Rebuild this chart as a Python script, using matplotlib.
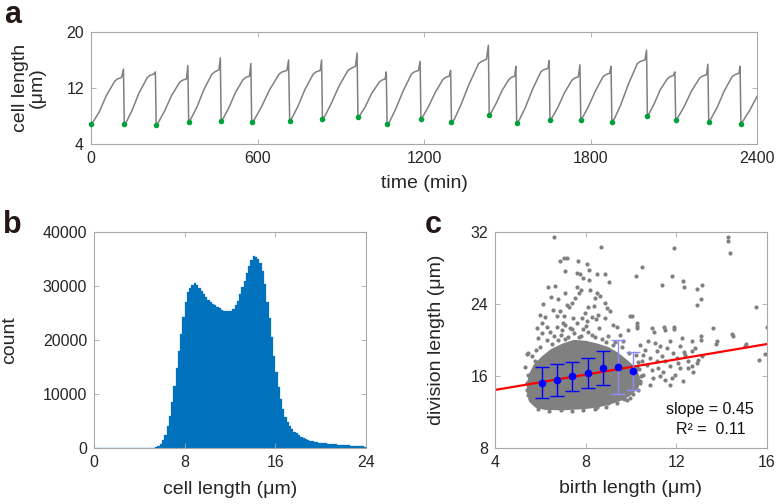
import numpy as np
import matplotlib
matplotlib.use("Agg")
import matplotlib.pyplot as plt
from matplotlib.patches import Polygon

plt.rcParams['font.family'] = ['Liberation Sans', 'DejaVu Sans']

# ---------------- panel a : cell length trace ----------------
trace_time = [
    0, 8, 30, 55, 86, 96, 110, 117,
    120, 128, 148, 172, 203, 212, 227, 232,
    235, 243, 265, 290, 319, 329, 344, 349,
    352, 360, 382, 407, 436, 446, 461, 466,
    469, 477, 497, 521, 548, 557, 571, 576,
    579, 589, 613, 643, 678, 689, 706, 712,
    716, 724, 746, 771, 801, 811, 826, 831,
    834, 843, 866, 894, 926, 937, 953, 959,
    962, 969, 988, 1011, 1038, 1047, 1060, 1064,
    1067, 1076, 1098, 1125, 1155, 1165, 1180, 1186,
    1189, 1197, 1217, 1241, 1268, 1277, 1291, 1296,
    1299, 1309, 1333, 1363, 1397, 1408, 1425, 1432,
    1435, 1442, 1460, 1482, 1506, 1514, 1527, 1531,
    1534, 1543, 1565, 1591, 1621, 1631, 1647, 1651,
    1654, 1662, 1682, 1706, 1733, 1742, 1756, 1762,
    1765, 1773, 1793, 1818, 1845, 1855, 1869, 1874,
    1877, 1886, 1909, 1937, 1969, 1980, 1996, 2002,
    2005, 2012, 2030, 2052, 2077, 2086, 2099, 2104,
    2107, 2115, 2137, 2163, 2193, 2203, 2218, 2223,
    2226, 2234, 2256, 2281, 2310, 2320, 2335, 2339,
    2342, 2350, 2375, 2400]
trace_length = [
    6.8, 7.2, 8.6, 10.9, 13.0, 13.3, 13.5, 14.7,
    6.8, 7.2, 8.8, 11.2, 13.5, 13.8, 14.0, 14.3,
    6.7, 7.1, 8.7, 10.9, 12.8, 13.1, 13.3, 15.2,
    7.2, 7.6, 9.3, 11.8, 14.0, 14.3, 14.6, 16.3,
    7.3, 7.7, 9.2, 11.4, 13.2, 13.5, 13.7, 15.5,
    7.1, 7.5, 9.2, 11.7, 14.0, 14.3, 14.5, 16.0,
    7.3, 7.7, 9.4, 11.8, 14.0, 14.3, 14.5, 16.0,
    7.6, 8.0, 9.8, 12.3, 14.5, 14.8, 15.1, 17.0,
    7.8, 8.1, 9.3, 11.2, 12.8, 13.1, 13.3, 14.3,
    6.8, 7.2, 9.0, 11.6, 14.0, 14.3, 14.5, 15.8,
    7.6, 8.0, 9.4, 11.4, 13.2, 13.5, 13.7, 14.5,
    7.1, 7.5, 9.6, 12.6, 15.5, 15.8, 16.1, 18.1,
    8.1, 8.5, 9.8, 11.7, 13.2, 13.5, 13.7, 15.1,
    7.0, 7.4, 9.2, 11.8, 14.3, 14.6, 14.8, 15.9,
    7.4, 7.8, 9.2, 11.3, 13.1, 13.4, 13.6, 15.3,
    7.5, 7.9, 9.4, 11.6, 13.6, 13.9, 14.1, 15.1,
    7.2, 7.6, 9.6, 12.6, 15.5, 15.8, 16.0, 17.4,
    8.0, 8.4, 9.8, 11.8, 13.3, 13.6, 13.8, 14.3,
    7.4, 7.8, 9.3, 11.5, 13.4, 13.7, 13.9, 15.4,
    7.2, 7.6, 9.2, 11.5, 13.6, 13.9, 14.1, 15.1,
    6.9, 7.3, 8.9, 10.8]
birth_time = [0, 120, 235, 352, 469, 579, 716, 834, 962, 1067, 1189,
              1299, 1435, 1534, 1654, 1765, 1877, 2005, 2107, 2226, 2342]
birth_length = [6.8, 6.8, 6.7, 7.2, 7.3, 7.1, 7.3, 7.6, 7.8, 6.8, 7.6,
                7.1, 8.1, 7.0, 7.4, 7.5, 7.2, 8.0, 7.4, 7.2, 6.9]

# ---------------- panel b : histogram ----------------
hist_bin_width = 0.2
hist_counts = [
    20, 20, 20, 20, 20, 20, 20, 20, 20, 20, 20, 20, 20, 20,
    20, 20, 20, 20, 20, 20, 20, 25, 30, 35, 40, 60, 90,
    150, 400, 800, 1500, 2500, 4000, 6000, 8500, 11400, 14800,
    18000, 21200, 24300, 27000, 28800, 29600, 30100, 30500, 30200, 29700,
    29100, 28500, 27900, 27400, 27000, 26700, 26400, 26100, 25900, 25600,
    25400, 25300, 25300, 25400, 25800, 26500, 27300, 28500, 29800, 31000,
    32500, 33700, 34800, 35500, 35300, 35000, 34200, 32700, 30300, 27000,
    24000, 20500, 17000, 14000, 11300, 9000, 7200, 5800, 4900, 4100,
    3500, 3000, 2700, 2400, 2100, 1900, 1700, 1500, 1350, 1250,
    1150, 1050, 1000, 950, 900, 850, 800, 760, 720, 680,
    640, 600, 570, 540, 510, 480, 450, 420, 390, 360,
    330, 300, 270]

# ---------------- panel c : birth vs division length ----------------
core_birth = [5.45, 5.55, 5.75, 6.1, 6.5, 7.0, 7.5, 8.0, 8.5, 9.0, 9.4, 9.8, 10.2,
              10.35, 10.3, 10.0, 9.6, 9.0, 8.5, 8.0, 7.0, 6.2, 5.8, 5.55, 5.45]
core_division = [15.2, 16.2, 17.2, 18.1, 18.9, 19.5, 19.9, 19.8, 19.5, 19.1, 18.5, 17.7, 16.8,
                 15.8, 14.8, 14.0, 13.4, 12.9, 12.6, 12.45, 12.3, 12.35, 12.6, 13.2, 14.2]

pts = [
    (6.6, 31.5), (8.66, 30.3), (11.91, 30.2), (14.26, 31.4), (14.26, 31.0), (14.37, 29.7),
    (6.87, 28.8), (7.04, 29.1), (7.16, 29.1), (7.68, 28.8), (8.05, 28.5), (8.13, 27.8),
    (7.1, 27.7), (7.63, 27.4), (7.75, 27.3), (7.87, 26.9), (8.16, 26.7), (8.51, 27.3),
    (8.85, 27.3), (9.04, 26.5), (6.34, 25.9), (6.65, 26.0), (6.46, 24.8), (6.79, 24.6),
    (7.09, 25.2), (7.38, 24.1), (7.28, 23.7), (7.6, 25.9), (7.78, 25.6), (7.69, 25.2),
    (7.53, 24.7), (8.19, 25.6), (8.48, 25.2), (8.63, 24.9), (8.41, 24.7), (8.12, 23.7),
    (8.37, 23.8), (8.85, 24.1), (8.93, 23.6), (6.13, 24.0), (6.21, 22.6), (5.99, 22.8),
    (6.06, 21.9), (6.54, 23.3), (6.72, 22.7), (6.87, 23.2), (7.04, 22.7), (7.19, 23.9),
    (7.43, 22.4), (7.6, 21.9), (7.82, 22.4), (7.97, 23.0), (8.05, 22.1), (8.27, 22.6),
    (8.46, 22.3), (8.56, 22.8), (8.85, 22.4), (9.07, 23.2), (9.22, 21.7), (5.84, 21.3),
    (5.91, 20.2), (6.06, 20.8), (6.28, 21.5), (6.43, 20.9), (6.72, 21.5), (6.94, 21.1),
    (7.09, 21.7), (7.31, 21.3), (9.37, 21.5), (9.51, 20.6), (9.66, 19.9), (9.88, 21.1),
    (10.03, 22.7), (10.47, 28.1), (10.22, 27.1), (11.82, 27.1), (11.38, 26.1),
    (12.28, 26.6), (12.34, 25.9), (12.93, 25.7), (13.12, 26.1), (13.09, 24.6), (12.9, 23.9),
    (15.51, 23.7), (15.98, 21.4), (15.66, 17.8), (15.91, 18.4), (15.07, 19.6), (15.03, 19.3),
    (14.44, 20.7), (14.52, 20.4), (13.63, 21.3), (13.78, 19.9), (13.75, 19.6), (13.1, 20.5),
    (13.1, 20.0), (12.7, 19.9), (12.34, 18.7), (11.9, 21.4), (11.9, 21.2), (11.45, 21.5),
    (11.5, 21.1), (10.94, 21.3), (11.0, 20.9), (10.28, 21.9), (10.28, 21.6), (10.28, 21.3),
    (9.96, 22.7),
    (10.40, 19.48), (10.62, 18.92), (10.76, 19.85), (10.54, 18.37), (10.84, 18.0),
    (11.06, 19.66), (11.13, 18.74), (11.28, 19.29), (11.35, 18.18), (11.50, 17.63),
    (11.57, 19.11), (11.72, 19.85), (11.87, 18.55), (12.01, 18.0), (12.16, 19.29),
    (12.23, 20.2), (12.38, 18.37), (12.53, 17.63), (12.68, 18.74), (12.82, 19.11),
    (12.97, 17.81), (13.12, 18.18), (10.69, 17.26), (10.91, 16.7), (11.21, 16.9),
    (11.43, 16.5), (11.72, 17.07), (11.94, 16.15), (12.16, 16.9), (12.31, 15.4),
    (10.54, 16.15), (10.98, 15.8), (10.40, 15.4), (11.50, 15.6), (11.72, 15.0),
    (11.28, 15.96), (12.53, 16.9), (12.75, 16.5), (12.9, 17.44), (10.84, 15.0),
    (10.25, 16.9), (10.47, 17.63), (12.09, 17.44), (11.79, 15.78), (11.13, 17.63),
    (12.68, 17.07), (9.96, 13.55), (9.81, 13.37),
    (6.3, 20.0), (6.6, 20.4), (6.9, 20.6), (7.2, 20.3), (7.5, 20.8), (7.8, 20.5),
    (8.1, 20.9), (8.4, 20.3), (8.7, 20.1), (9.0, 20.4), (9.3, 19.8), (6.0, 19.2),
    (5.8, 18.9), (7.0, 21.9), (7.9, 21.2), (8.6, 21.3), (9.6, 19.2), (9.9, 18.6),
    (10.2, 18.3), (10.3, 17.6), (6.5, 19.6), (7.1, 20.1), (7.7, 20.3), (8.3, 20.6),
    (8.9, 19.8), (9.2, 19.4), (6.8, 20.0), (7.4, 21.2), (8.0, 21.6),
    (5.4, 18.4), (5.47, 18.6), (5.62, 18.2), (5.76, 17.7), (5.32, 17.0), (5.44, 16.1),
    (5.4, 15.2), (5.4, 14.5), (5.45, 13.9), (5.55, 13.4),
    (5.9, 12.3), (6.4, 12.1), (6.9, 12.2), (7.4, 12.1), (7.9, 12.2), (8.4, 12.3),
    (8.9, 12.6), (9.4, 13.0), (9.7, 13.5), (10.1, 14.0), (10.3, 14.5), (10.4, 15.2),
    (10.45, 16.0), (10.35, 16.8), (9.0, 13.0), (8.5, 12.6)]
scatter_birth = [p[0] for p in pts]
scatter_division = [p[1] for p in pts]

bin_birth = [6.07, 6.74, 7.41, 8.09, 8.75, 9.43, 10.09]
bin_mean = [15.26, 15.56, 15.97, 16.37, 16.89, 17.03, 16.56]
bin_std = [1.75, 1.75, 1.63, 1.67, 1.87, 3.0, 2.1]

fit_x = [4, 16]
fit_y = [14.45, 19.55]

# ---------------- styling ----------------
TICK_COLOR = '#262626'
SPINE_COLOR = '#a8a8a8'


def style(ax):
    for s in ax.spines.values():
        s.set_color(SPINE_COLOR)
        s.set_linewidth(0.8)
    ax.tick_params(direction='in', length=3.5, width=0.6, color=SPINE_COLOR,
                   labelcolor=TICK_COLOR, labelsize=11.5, top=True, right=True, pad=5)


fig = plt.figure(figsize=(7.77, 5.04), dpi=100)

# panel a
axA = fig.add_axes([91 / 777, 1 - 144 / 504, 666 / 777, 112 / 504])
axA.plot(trace_time, trace_length, color='#808080', lw=1.1)
axA.plot(birth_time, birth_length, 'o', color='#00a03c', ms=4, mec='none', clip_on=False, zorder=3)
axA.set_xlim(0, 2400)
axA.set_ylim(4, 20)
axA.set_xticks([0, 600, 1200, 1800, 2400])
axA.set_yticks([4, 12, 20])
style(axA)
axA.set_xlabel('time (min)', fontsize=14, color=TICK_COLOR)
axA.xaxis.set_label_coords(0.5, -0.28)
axA.xaxis.label.set_va('top')
axA.set_ylabel('cell length\n(μm)', fontsize=14, color=TICK_COLOR, linespacing=1.0)
axA.yaxis.set_label_coords(-0.068, 0.5)

# panel b
axB = fig.add_axes([94 / 777, 1 - 448 / 504, 272 / 777, 216 / 504])
edges = np.arange(len(hist_counts)) * hist_bin_width
axB.bar(edges, hist_counts, width=hist_bin_width, align='edge', color='#0072bd',
        edgecolor='#0a78c2', linewidth=0.2)
axB.set_xlim(0, 24)
axB.set_ylim(0, 40000)
axB.set_xticks([0, 8, 16, 24])
axB.set_yticks([0, 10000, 20000, 30000, 40000])
style(axB)
axB.set_xlabel('cell length (μm)', fontsize=14, color=TICK_COLOR)
axB.xaxis.set_label_coords(0.5, -0.155)
axB.xaxis.label.set_va('top')
axB.set_ylabel('count', fontsize=14, color=TICK_COLOR)
axB.yaxis.set_label_coords(-0.28, 0.5)

# panel c
axC = fig.add_axes([495 / 777, 1 - 448 / 504, 272 / 777, 216 / 504])
axC.add_patch(Polygon(list(zip(core_birth, core_division)), closed=True,
                      facecolor='#808080', edgecolor='#808080', lw=1.5, zorder=1))
axC.scatter(scatter_birth, scatter_division, s=9, color='#808080', lw=0, zorder=1)
axC.plot(fit_x, fit_y, color='#ff0000', lw=1.6, zorder=2)
eb1 = axC.errorbar(bin_birth[:5], bin_mean[:5], yerr=bin_std[:5], fmt='o', color='#0000ff',
                   ms=4.5, capsize=5, elinewidth=1.0, capthick=1.0, zorder=3)
eb2 = axC.errorbar(bin_birth[5:], bin_mean[5:], yerr=bin_std[5:], fmt='o', color='#0000ff',
                   ecolor='#8c8cff', ms=4.5, capsize=5, elinewidth=1.0, capthick=1.0, zorder=3)
for cl in eb2[1]:
    cl.set_color('#0000ff')
axC.set_xlim(4, 16)
axC.set_ylim(8, 32)
axC.set_xticks([4, 8, 12, 16])
axC.set_yticks([8, 16, 24, 32])
style(axC)
axC.set_xlabel('birth length (μm)', fontsize=14, color=TICK_COLOR)
axC.xaxis.set_label_coords(0.5, -0.148)
axC.xaxis.label.set_va('top')
axC.set_ylabel('division length (μm)', fontsize=14, color=TICK_COLOR)
axC.yaxis.set_label_coords(-0.184, 0.5)
axC.text(13.5, 12.33, 'slope = 0.45', ha='center', va='center', fontsize=11.5, color='#111111')
axC.text(13.5, 10.1, 'R² =  0.11', ha='center', va='center', fontsize=11.5, color='#111111')

# panel letters
fig.text(4 / 777, 1 - 23 / 504, 'a', fontsize=22, fontweight='bold', color='#231815', va='baseline')
fig.text(3 / 777, 1 - 233 / 504, 'b', fontsize=22, fontweight='bold', color='#231815', va='baseline')
fig.text(425 / 777, 1 - 233 / 504, 'c', fontsize=22, fontweight='bold', color='#231815', va='baseline')

fig.savefig('out.png', dpi=100)
